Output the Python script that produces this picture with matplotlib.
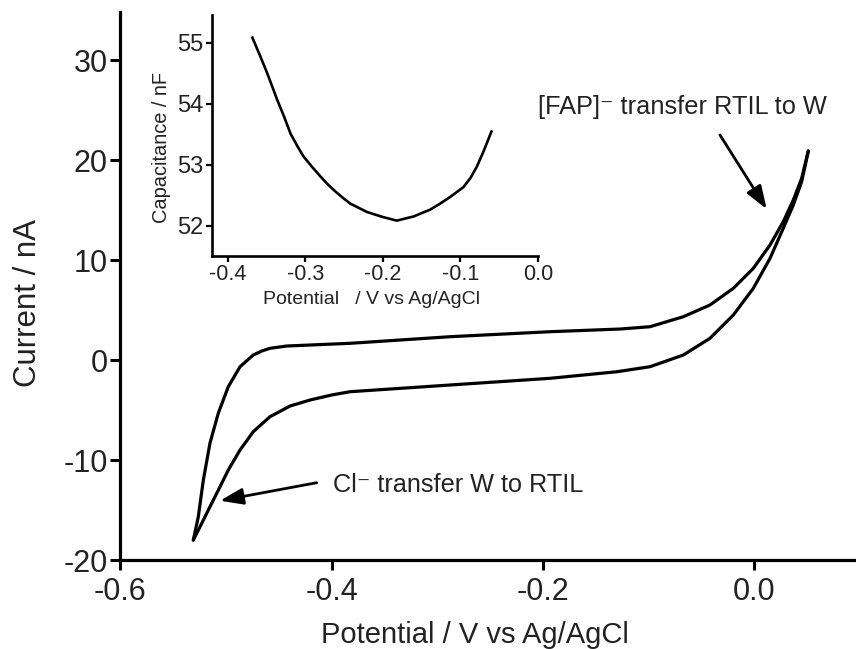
import matplotlib
matplotlib.use("Agg")
import matplotlib.pyplot as plt

plt.rcParams['font.family'] = ['Liberation Sans', 'DejaVu Sans']

# Main CV: forward (upper) branch
fwd_E = [-0.5307, -0.526, -0.5212, -0.5149, -0.507, -0.4976, -0.4865, -0.474, -0.466,
         -0.4582, -0.4424, -0.4203, -0.3825, -0.288, -0.1934, -0.127, -0.0988, -0.0673,
         -0.0421, -0.020, -0.0011, 0.0147, 0.0272, 0.0367, 0.0446, 0.0509]
fwd_I = [-18.0, -15.7, -12.0, -8.3, -5.3, -2.67, -0.67, 0.5, 0.9,
         1.17, 1.4, 1.5, 1.67, 2.33, 2.83, 3.1, 3.33, 4.33,
         5.5, 7.17, 9.17, 11.5, 13.83, 16.0, 18.17, 20.9]
# reverse (lower) branch
rev_E = [0.0509, 0.0446, 0.0367, 0.0272, 0.0147, -0.0011, -0.020, -0.0421, -0.0673,
         -0.0988, -0.130, -0.1934, -0.288, -0.3825, -0.40, -0.4203, -0.4392, -0.4582,
         -0.474, -0.4865, -0.4976, -0.507, -0.5165, -0.5243, -0.5307]
rev_I = [20.9, 17.83, 15.5, 13.17, 10.17, 7.17, 4.5, 2.17, 0.5,
         -0.67, -1.17, -1.83, -2.5, -3.17, -3.5, -4.0, -4.6, -5.67,
         -7.17, -9.0, -11.0, -13.0, -15.0, -16.67, -18.0]

# Inset: capacitance
cap_E = [-0.368, -0.358, -0.349, -0.336, -0.327, -0.319, -0.310, -0.302, -0.291,
         -0.280, -0.272, -0.263, -0.252, -0.242, -0.231, -0.220, -0.200, -0.182,
         -0.160, -0.139, -0.126, -0.113, -0.096, -0.087, -0.079, -0.070, -0.060]
cap_C = [55.08, 54.78, 54.50, 54.06, 53.78, 53.51, 53.30, 53.13, 52.96,
         52.80, 52.69, 52.58, 52.46, 52.36, 52.29, 52.22, 52.14, 52.08,
         52.15, 52.26, 52.36, 52.47, 52.63, 52.78, 52.96, 53.22, 53.54]

main_xticks = [-0.6, -0.4, -0.2, 0.0]
main_yticks = [-20, -10, 0, 10, 20, 30]
inset_xticks = [-0.4, -0.3, -0.2, -0.1, 0.0]
inset_yticks = [52, 53, 54, 55]

TXT = '#222222'

fig = plt.figure(figsize=(8.56, 6.49), dpi=100)
ax = fig.add_axes([0.1402, 0.1371, 0.8598, 0.8444])
ax.plot(fwd_E, fwd_I, color='black', lw=2.3, solid_joinstyle='round', solid_capstyle='round')
ax.plot(rev_E, rev_I, color='black', lw=2.3, solid_joinstyle='round', solid_capstyle='round')
ax.set_xlim(-0.6, 0.096)
ax.set_ylim(-20, 34.8)
ax.set_xticks(main_xticks)
ax.set_xticklabels(['-0.6', '-0.4', '-0.2', '0.0'])
ax.set_yticks(main_yticks)
ax.set_yticklabels([str(t) for t in main_yticks])
for s in ['top', 'right']:
    ax.spines[s].set_visible(False)
for s in ['left', 'bottom']:
    ax.spines[s].set_linewidth(2.3)
ax.tick_params(axis='both', direction='out', length=7.5, width=2.2, labelsize=22,
               colors='black', labelcolor=TXT)
ax.tick_params(axis='y', pad=1.5)
ax.tick_params(axis='x', pad=5)
ax.set_xlabel('Potential / V vs Ag/AgCl', fontsize=21, color=TXT)
ax.xaxis.set_label_coords(0.482, -0.112)
ax.set_ylabel('Current / nA', fontsize=22.5, color=TXT)
ax.yaxis.set_label_coords(-0.104, 0.469)

arrow_kw = dict(arrowstyle='-|>,head_length=0.7,head_width=0.25', lw=2, color='black',
                shrinkA=0, shrinkB=0, mutation_scale=20)
ax.annotate('', xy=(0.0115, 15.1), xytext=(-0.0326, 22.5), arrowprops=arrow_kw)
ax.text(-0.2047, 25.3, '[FAP]\u207b transfer RTIL to W', fontsize=18.3, color=TXT,
        ha='left', va='center')

ax.annotate('', xy=(-0.5054, -14.07), xytext=(-0.414, -12.27), arrowprops=arrow_kw)
ax.text(-0.3986, -12.5, 'Cl\u207b transfer W to RTIL', fontsize=18.2, color=TXT,
        ha='left', va='center')

# Inset
ins = fig.add_axes([0.2477, 0.6055, 0.3808, 0.3713])
ins.plot(cap_E, cap_C, color='black', lw=1.9, solid_joinstyle='round')
ins.set_xlim(-0.42, 0.0)
ins.set_ylim(51.5, 55.45)
ins.set_xticks(inset_xticks)
ins.set_xticklabels(['-0.4', '-0.3', '-0.2', '-0.1', '0.0'])
ins.set_yticks(inset_yticks)
for s in ['top', 'right']:
    ins.spines[s].set_visible(False)
for s in ['left', 'bottom']:
    ins.spines[s].set_linewidth(1.9)
ins.tick_params(axis='both', direction='out', length=4.5, width=1.6,
                colors='black', labelcolor=TXT, pad=1.5)
ins.tick_params(axis='y', labelsize=17)
ins.tick_params(axis='x', labelsize=15.5)
ins.set_xlabel('Potential   / V vs Ag/AgCl', fontsize=14, color=TXT)
ins.xaxis.set_label_coords(0.488, -0.145)
ins.set_ylabel('Capacitance / nF', fontsize=14.4, color=TXT)
ins.yaxis.set_label_coords(-0.127, 0.452)

fig.savefig('out.png', dpi=100)
